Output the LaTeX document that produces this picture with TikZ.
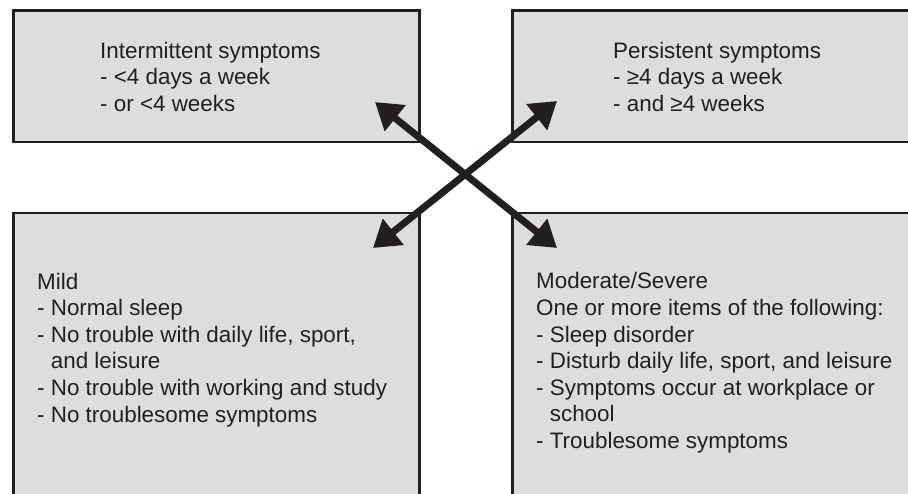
\documentclass[tikz,border=0pt]{standalone}
\usepackage{fontspec}
\setmainfont{Liberation Sans}
\usetikzlibrary{arrows.meta}

\definecolor{boxgray}{HTML}{DCDDDF}
\definecolor{inkgray}{HTML}{231F20}

\tikzset{
  box/.style={draw=inkgray, line width=2.5pt, fill=boxgray, inner sep=0pt, anchor=north west},
  info/.style={align=left, anchor=base west, inner sep=0pt, text=inkgray,
    font=\fontsize{22.4}{26.6}\selectfont},
  link/.style={line width=7pt, draw=inkgray,
    {Triangle[length=26pt,width=32pt]}-{Triangle[length=26pt,width=32pt]}},
}
\newcommand{\ind}{\hphantom{- }}

\begin{document}
\begin{tikzpicture}[x=1pt,y=-1pt]
	\clip (0,0) rectangle (908,494);
	% the four boxes, right and bottom ones run off the page
	\node[box, minimum width=406pt, minimum height=131.5pt] (intbox) at (12,9.5) {};
	\node[box, minimum width=420pt, minimum height=131.5pt] (perbox) at (511,9.5) {};
	\node[box, minimum width=406pt, minimum height=300pt] (mildbox) at (12,212) {};
	\node[box, minimum width=420pt, minimum height=300pt] (sevbox) at (511,212) {};
	% texts (placed at the baseline of their last line)
	\node[info] (inttext) at (100,111.5) {Intermittent symptoms\\- <4 days a week\\- or <4 weeks};
	\node[info] (pertext) at (613,111.5) {Persistent symptoms\\- ≥4 days a week\\- and ≥4 weeks};
	\node[info] (mildtext) at (37,422) {Mild\\- Normal sleep\\- No trouble with daily life, sport,\\\ind and leisure\\- No trouble with working and study\\- No troublesome symptoms};
	\node[info] (sevtext) at (536,448.5) {Moderate/Severe\\One or more items of the following:\\- Sleep disorder\\- Disturb daily life, sport, and leisure\\- Symptoms occur at workplace or\\\ind school\\- Troublesome symptoms};
	% crossing arrows
	\coordinate (intend) at (375,102);
	\coordinate (perend) at (557,101);
	\coordinate (mildend) at (373,248);
	\coordinate (sevend) at (557,248);
	\draw[link] (intend) -- (sevend);
	\draw[link] (perend) -- (mildend);
\end{tikzpicture}
\end{document}
